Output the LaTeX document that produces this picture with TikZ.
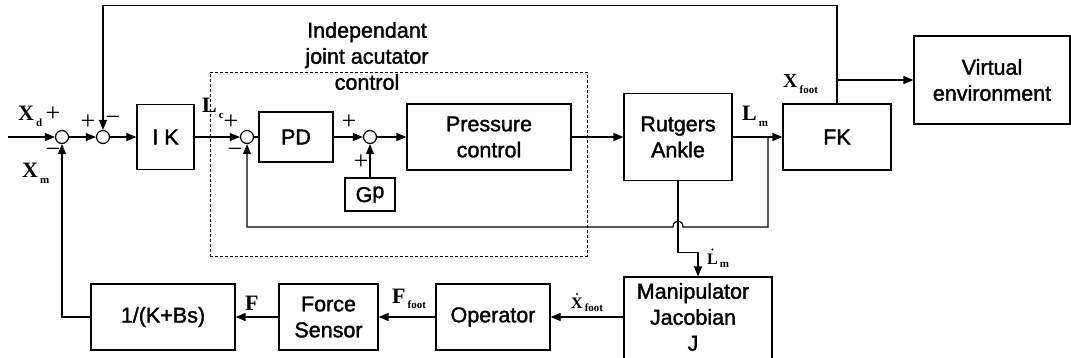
\documentclass[tikz,border=0pt]{standalone}
\usepackage{fontspec}
\setmainfont{Liberation Sans}
\newfontfamily\heavy{Liberation Sans}[FakeBold=1.6]
\newfontfamily\serif{Liberation Serif}
\usetikzlibrary{arrows.meta}
\newcommand\mysub[2][6pt]{\hspace{2pt}\raisebox{-#1}{\fontsize{11}{11}\selectfont #2}}
\tikzset{
 ln/.style={line width=1.2pt},
 arr/.style={ln, -{Triangle[length=10pt,width=8pt]}},
 txt/.style={font=\heavy\fontsize{21.5}{26}\selectfont},
 blk/.style={draw, line width=1.2pt, inner sep=0pt, align=center, txt},
 sumc/.style={draw, circle, line width=1.2pt, minimum size=13pt, inner sep=0pt},
 sgn/.style={inner sep=0pt, font=\serif\fontsize{26}{26}\selectfont},
 var/.style={inner sep=0pt, anchor=base west, font=\serif\bfseries\fontsize{22}{22}\selectfont},
 smallvar/.style={inner sep=0pt, anchor=base west, font=\serif\bfseries\fontsize{16}{16}\selectfont},
 ctrlframe/.style={draw, dash pattern=on 3pt off 2pt, line width=1pt, inner sep=0pt},
}
\begin{document}
\begin{tikzpicture}[x=1pt,y=-1pt]
\useasboundingbox (0,0) rectangle (1071,357);
\clip (0,0) rectangle (1071,357);
% frame
\node[ctrlframe, minimum width=377pt, minimum height=184pt] (frm) at (398.5,164) {};
\node[inner sep=0pt, align=center, txt] (title) at (367,56) {Independant\\joint acutator\\control};
% blocks
\node[blk, minimum width=57pt, minimum height=65pt] (ik) at (165.5,137) {I K};
\node[blk, minimum width=74pt, minimum height=50pt] (pd) at (296,137) {PD};
\node[blk, minimum width=164pt, minimum height=66pt] (pc) at (489,137) {Pressure\\control};
\node[blk, minimum width=108pt, minimum height=87pt] (ra) at (678,137) {Rutgers\\Ankle};
\node[blk, minimum width=108pt, minimum height=66pt] (fk) at (837,137) {FK};
\node[blk, minimum width=156pt, minimum height=88pt] (ve) at (992,80) {Virtual\\environment};
\node[blk, minimum width=50pt, minimum height=33pt] (gp) at (370,194.5) {G\raisebox{4pt}{p}};
\node[blk, minimum width=148pt, minimum height=93pt] (mj) at (698,323.5) {};
\node[inner sep=0pt, align=center, txt] (mjt) at (693,317) {Manipulator\\Jacobian\\J};
\node[blk, minimum width=114pt, minimum height=66pt] (op) at (493,317) {Operator};
\node[blk, minimum width=99pt, minimum height=66pt] (fs) at (328.5,317) {Force\\Sensor};
\node[blk, minimum width=144pt, minimum height=66pt] (kb) at (163,317) {1/(K+Bs)};
% summing junctions
\node[sumc] (s1) at (62,137) {};
\node[sumc] (s2) at (103,137) {};
\node[sumc] (s3) at (247,137) {};
\node[sumc] (s4) at (370,137) {};
% coordinates
\coordinate (in) at (8,137);
\coordinate (b1) at (768,137);
\coordinate (b2) at (837,80);
\coordinate (hopR) at (683,227);
\coordinate (hopL) at (673,227);
% connectors
\draw[arr] (in) -- (s1);
\draw[arr] (s1) -- (s2);
\draw[arr] (s2) -- (ik);
\draw[arr] (ik) -- (s3);
\draw[ln] (s3) -- (pd);
\draw[arr] (pd) -- (s4);
\draw[arr] (s4) -- (pc);
\draw[arr] (pc) -- (ra);
\draw[arr] (ra) -- (fk);
\draw[arr] (b1) |- (hopR) .. controls +(0,-8) and +(0,-8) .. (hopL) -| (s3);
\draw[arr] (gp) -- (s4);
\draw[arr] (ra.south) -- ++(0,71.5) -| (mj.north);
\draw[arr] (fk.north) -- ++(0,-98) -| (s2);
\draw[arr] (b2) -- (ve);
\draw[arr] (op.east -| mj.west) -- (op.east);
\draw[arr] (op) -- (fs);
\draw[arr] (fs) -- (kb);
\draw[arr] (kb.west) -| (s1);
% signs
\node[sgn] (p1) at (53,114) {+};
\node[sgn] (m1) at (53,153) {−};
\node[sgn] (p2) at (88,122) {+};
\node[sgn] (m2) at (113,121) {−};
\node[sgn] (p3) at (231,122) {+};
\node[sgn] (m3) at (235,153) {−};
\node[sgn] (p4) at (349,122) {+};
\node[sgn] (p5) at (361,162) {+};
% variable labels
\node[var] (xd) at (18,120) {X\mysub{d}};
\node[var] (xm) at (22,177) {X\mysub{m}};
\node[var] (lc) at (202,112) {L\mysub{c}};
\node[var] (lm) at (742,120) {L\mysub{m}};
\node[var, font=\serif\bfseries\fontsize{20}{20}\selectfont] (xf) at (783,87) {X\mysub{foot}};
\node[smallvar] (ldm) at (707,264) {L\mysub[3pt]{m}};
\node[smallvar] (xdf) at (571,308) {X\mysub[3pt]{foot}};
\node[var] (ff) at (392,303) {F\mysub[5pt]{foot}};
\node[var] (f) at (245,310) {F};
% derivative dots
\fill (712.5,249.5) circle (1.2pt);
\fill (577,294) circle (1.2pt);
\end{tikzpicture}
\end{document}
